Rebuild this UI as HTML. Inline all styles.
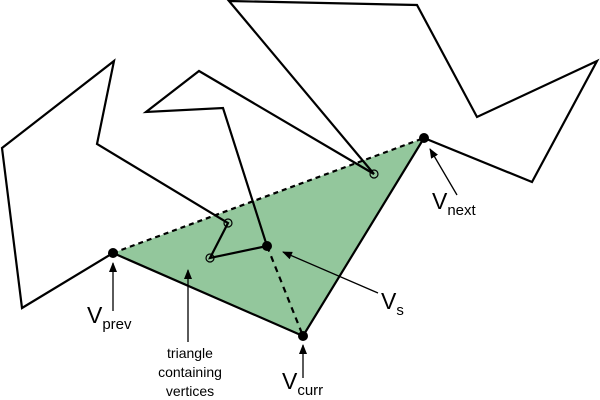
<!DOCTYPE html>
<html><head><style>body{margin:0;background:#fff}svg{display:block}</style></head><body>
<svg width="600" height="400" viewBox="0 0 600 400" xmlns="http://www.w3.org/2000/svg" font-family="Liberation Sans, Arial, sans-serif">
<defs><marker id="a" markerWidth="10" markerHeight="8" refX="9" refY="4" orient="auto" markerUnits="userSpaceOnUse"><path d="M0,0 L10,4 L0,8 z" fill="#000"/></marker></defs>
<polygon points="113,253 424,138 303,336" fill="#93c79c"/>
<polyline points="113,253 22,308 2,148 114,61 97,144 228,223 210,258 267,246 223,108 146,112 199,71 374,174 229,1 417,5 477,117 597,61 532,182 424,138 303,336 113,253" fill="none" stroke="#000" stroke-width="2.2" stroke-linejoin="miter"/>
<line x1="113" y1="253" x2="424" y2="138" stroke="#000" stroke-width="2.2" stroke-dasharray="5,4"/>
<line x1="267" y1="246" x2="303" y2="336" stroke="#000" stroke-width="2.2" stroke-dasharray="6,5"/>
<g fill="#000"><circle cx="113" cy="253" r="5"/><circle cx="424" cy="138" r="5"/><circle cx="303" cy="336" r="5"/><circle cx="267" cy="246" r="5"/></g>
<g fill="none" stroke="#000" stroke-width="1.2"><circle cx="228" cy="223" r="4"/><circle cx="210" cy="258" r="4"/><circle cx="374" cy="174" r="4"/></g>
<g stroke="#000" stroke-width="1.3" marker-end="url(#a)">
<line x1="113" y1="311" x2="113" y2="263"/>
<line x1="188" y1="342" x2="188" y2="270"/>
<line x1="303" y1="378" x2="303" y2="345"/>
<line x1="457" y1="195" x2="430" y2="149"/>
<line x1="378" y1="293" x2="283" y2="252"/>
</g>
<g font-size="23" fill="#000">
<text x="87" y="323">V<tspan font-size="15" dy="6">prev</tspan></text>
<text x="282" y="389">V<tspan font-size="15" dy="6">curr</tspan></text>
<text x="432" y="209">V<tspan font-size="15" dy="6">next</tspan></text>
<text x="381" y="309">V<tspan font-size="15" dy="6">s</tspan></text>
</g>
<g font-size="14" fill="#000" text-anchor="middle">
<text x="190" y="358">triangle</text>
<text x="190" y="377">containing</text>
<text x="190" y="396">vertices</text>
</g>
</svg>
</body></html>
